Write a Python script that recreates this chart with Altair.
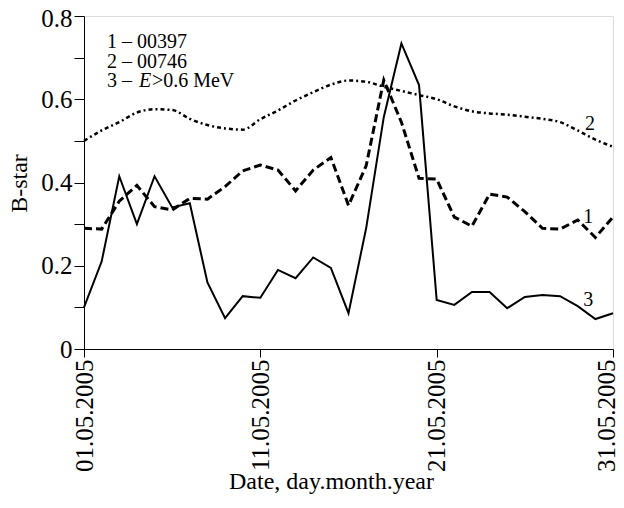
import altair as alt
import pandas as pd

days = list(range(1, 32))

# series 1 (NORAD 00397, dashed)
s1 = [0.29, 0.288, 0.355, 0.393, 0.342, 0.334, 0.362, 0.36, 0.39, 0.428,
      0.442, 0.43, 0.38, 0.43, 0.46, 0.345, 0.44, 0.646, 0.545, 0.41,
      0.408, 0.317, 0.295, 0.372, 0.365, 0.33, 0.29, 0.288, 0.31, 0.268, 0.317]
# series 2 (NORAD 00746, dotted)
s2 = [0.50, 0.525, 0.545, 0.568, 0.576, 0.574, 0.553, 0.538, 0.53, 0.527,
      0.552, 0.573, 0.597, 0.617, 0.635, 0.645, 0.642, 0.63, 0.62, 0.61,
      0.60, 0.583, 0.571, 0.566, 0.563, 0.558, 0.553, 0.545, 0.525, 0.503, 0.486]
# series 3 (electrons E>0.6 MeV, solid)
s3 = [0.10, 0.21, 0.415, 0.30, 0.415, 0.34, 0.35, 0.16, 0.074, 0.127,
      0.123, 0.19, 0.17, 0.22, 0.195, 0.086, 0.29, 0.557, 0.734, 0.634,
      0.118, 0.106, 0.137, 0.137, 0.098, 0.125, 0.13, 0.127, 0.103, 0.072, 0.086]

tick_days = [1, 11, 21, 31]
tick_labels = ["01.05.2005", "11.05.2005", "21.05.2005", "31.05.2005"]

FONT = "Liberation Serif"

label_expr = " : ".join(
    f"datum.value == {d} ? '{l}'" for d, l in zip(tick_days, tick_labels)
) + " : ''"

x_enc = alt.X(
    "day:Q",
    scale=alt.Scale(domain=[1, 31], nice=False, zero=False),
    axis=alt.Axis(
        values=tick_days, labelExpr=label_expr, labelAngle=-90,
        labelFont=FONT, labelFontSize=25, labelColor="black",
        tickSize=8, tickColor="black", domainColor="black", grid=False,
        labelPadding=2, labelFlush=False,
        labelOffset={"condition": {"test": "datum.value == 31", "value": -7}, "value": 0},
        title="Date, day.month.year", titleFont=FONT, titleFontSize=24,
        titleFontWeight="normal", titleColor="black",
        titleX=247, titleY=132, titleBaseline="middle", titleAlign="center",
    ),
)
y_vals = [round(i * 0.1, 1) for i in range(9)]
y_enc = alt.Y(
    "v:Q",
    scale=alt.Scale(domain=[0, 0.8], nice=False),
    axis=alt.Axis(
        values=y_vals,
        labelExpr="datum.value == 0 ? '0' : (round(datum.value*10) % 2 == 0 ? format(datum.value, '.1f') : '')",
        labelFont=FONT, labelFontSize=25, labelColor="black", labelPadding=2,
        labelOffset={"condition": {"test": "datum.value >= 0.79", "value": 2}, "value": 0},
        tickSize=10, tickColor="black", domainColor="black", grid=False,
        title="B-star", titleFont=FONT, titleFontSize=24, titleFontWeight="normal",
        titleColor="black", titleAngle=-90, titleX=-65, titleY=167,
        titleAlign="center", titleBaseline="middle",
    ),
)

df1 = pd.DataFrame({"day": days, "v": s1})
df2 = pd.DataFrame({"day": days, "v": s2})
df3 = pd.DataFrame({"day": days, "v": s3})

l3 = alt.Chart(df3).mark_line(color="black", strokeWidth=2).encode(x=x_enc, y=y_enc)
l1 = alt.Chart(df1).mark_line(color="black", strokeWidth=3, strokeDash=[8, 4]).encode(x="day:Q", y="v:Q")
l2 = alt.Chart(df2).mark_line(color="black", strokeWidth=2.5, strokeDash=[4, 3, 2, 3],
                              interpolate="monotone").encode(x="day:Q", y="v:Q")

# legend text (upper left)
leg_df = pd.DataFrame({"day": [2.3, 2.3], "v": [0.737, 0.689], "t": ["1 \u2013 00397", "2 \u2013 00746"]})
leg = alt.Chart(leg_df).mark_text(align="left", baseline="middle", font=FONT, fontSize=20,
                                  color="black").encode(x="day:Q", y="v:Q", text="t:N")
leg3_df = pd.DataFrame({"day": [2.3], "v": [0.643]})
leg3a = alt.Chart(leg3_df).mark_text(align="left", baseline="middle", font=FONT, fontSize=20,
                                     color="black", text="3 \u2013").encode(x="day:Q", y="v:Q")
leg3b = alt.Chart(leg3_df).mark_text(align="left", baseline="middle", font=FONT, fontSize=20,
                                     color="black", fontStyle="italic", text="E", dx=32).encode(x="day:Q", y="v:Q")
leg3c = alt.Chart(leg3_df).mark_text(align="left", baseline="middle", font=FONT, fontSize=20,
                                     color="black", text=">0.6 MeV", dx=45).encode(x="day:Q", y="v:Q")

# series number labels
lab_df = pd.DataFrame({"day": [29.7, 29.6, 29.6], "v": [0.54, 0.318, 0.118], "t": ["2", "1", "3"]})
labs = alt.Chart(lab_df).mark_text(align="center", baseline="middle", font=FONT, fontSize=20,
                                   color="black").encode(x="day:Q", y="v:Q", text="t:N")

chart = alt.layer(l3, l1, l2, leg, leg3a, leg3b, leg3c, labs).properties(
    width=529, height=333,
    autosize=alt.AutoSizeParams(type="none"),
    padding={"left": 76, "top": 8, "right": 3, "bottom": 151},
).configure_view(stroke="black", strokeWidth=1.5).configure(background="white")

chart.save("out.html", embed_options={"renderer": "svg", "actions": False})
